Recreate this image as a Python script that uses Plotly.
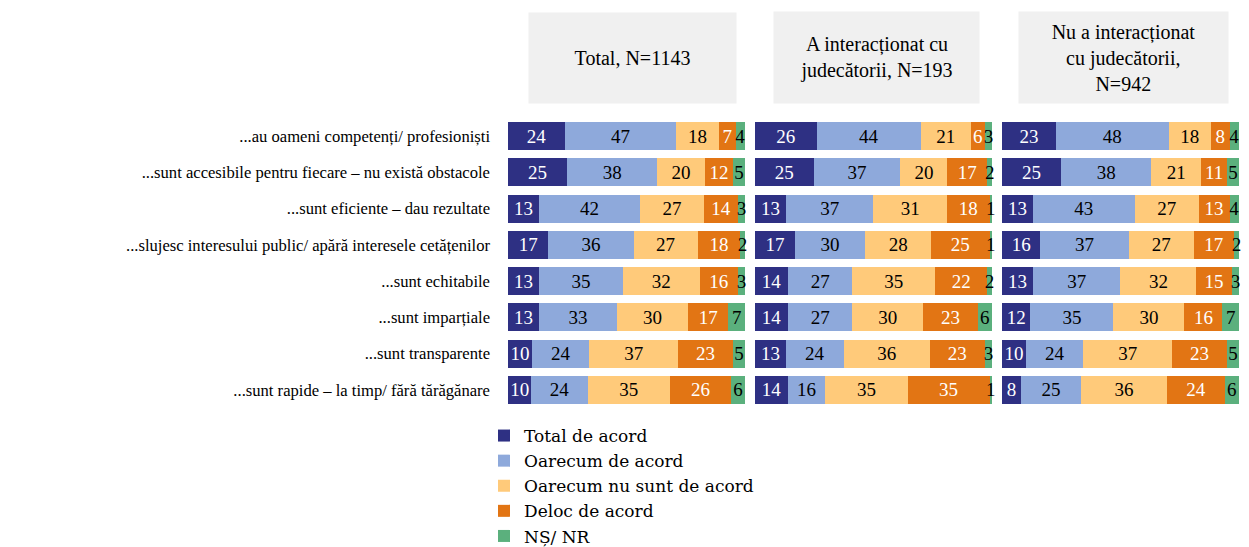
import plotly.graph_objects as go

statements = [
    "...au oameni competenți/ profesioniști",
    "...sunt accesibile pentru fiecare – nu există obstacole",
    "...sunt eficiente – dau rezultate",
    "...slujesc interesului public/ apără interesele cetățenilor",
    "...sunt echitabile",
    "...sunt imparțiale",
    "...sunt transparente",
    "...sunt rapide – la timp/ fără tărăgănare",
]

series_names = ["Total de acord", "Oarecum de acord", "Oarecum nu sunt de acord",
                "Deloc de acord", "NȘ/ NR"]
series_colors = ["#2E3083", "#8EA9DB", "#FFCA7A", "#E27514", "#5BB07D"]
text_colors = ["white", "black", "black", "white", "black"]

panel_titles = ["Total, N=1143", "A interacționat cu<br>judecătorii, N=193",
                "Nu a interacționat<br>cu judecătorii,<br>N=942"]

total_vals = {
    "Total de acord":           [24, 25, 13, 17, 13, 13, 10, 10],
    "Oarecum de acord":         [47, 38, 42, 36, 35, 33, 24, 24],
    "Oarecum nu sunt de acord": [18, 20, 27, 27, 32, 30, 37, 35],
    "Deloc de acord":           [7, 12, 14, 18, 16, 17, 23, 26],
    "NȘ/ NR":                   [4, 5, 3, 2, 3, 7, 5, 6],
}
interact_vals = {
    "Total de acord":           [26, 25, 13, 17, 14, 14, 13, 14],
    "Oarecum de acord":         [44, 37, 37, 30, 27, 27, 24, 16],
    "Oarecum nu sunt de acord": [21, 20, 31, 28, 35, 30, 36, 35],
    "Deloc de acord":           [6, 17, 18, 25, 22, 23, 23, 35],
    "NȘ/ NR":                   [3, 2, 1, 1, 2, 6, 3, 1],
}
no_interact_vals = {
    "Total de acord":           [23, 25, 13, 16, 13, 12, 10, 8],
    "Oarecum de acord":         [48, 38, 43, 37, 37, 35, 24, 25],
    "Oarecum nu sunt de acord": [18, 21, 27, 27, 32, 30, 37, 36],
    "Deloc de acord":           [8, 11, 13, 17, 15, 16, 23, 24],
    "NȘ/ NR":                   [4, 5, 4, 2, 3, 7, 5, 6],
}
panels = [total_vals, interact_vals, no_interact_vals]

FONT = "Liberation Serif"
W, H = 1249, 547
OFF = 8  # page body margin


def fx(px):
    return (px - OFF) / W


def fy(py):
    return 1 - (py - OFF) / H


fig = go.Figure()
for p, vals in enumerate(panels):
    xa = "x" if p == 0 else f"x{p+1}"
    ya = "y" if p == 0 else f"y{p+1}"
    # 100% stacked: share of each answer within its row
    row_sums = [sum(vals[n][r] for n in series_names) for r in range(len(statements))]
    for i, name in enumerate(series_names):
        v = vals[name]
        share = [100.0 * a / s for a, s in zip(v, row_sums)]
        fig.add_trace(go.Bar(
            name=name, y=statements, x=share, orientation="h",
            marker=dict(color=series_colors[i], line=dict(width=0)),
            text=[str(t) for t in v], texttemplate="%{text}",
            hovertemplate="%{y}<br>" + name + ": %{text}<extra></extra>",
            textposition="inside", insidetextanchor="middle", textangle=0,
            textfont=dict(family=FONT, size=19, color=text_colors[i]),
            constraintext="none", cliponaxis=False,
            legendgroup=name, showlegend=(p == 0),
            xaxis=xa, yaxis=ya,
        ))

domains = [(fx(508), fx(745)), (fx(755), fx(992)), (fx(1002), fx(1239))]
ydom = (fy(408), fy(118))

layout = dict(
    width=W, height=H,
    margin=dict(l=0, r=0, t=0, b=0),
    paper_bgcolor="white", plot_bgcolor="white",
    barmode="stack", bargap=0.225,
    uniformtext=dict(minsize=19, mode="show"),
    font=dict(family=FONT, size=18, color="#000000"),
    legend=dict(
        orientation="v", x=fx(484), y=fy(418), xanchor="left", yanchor="top",
        font=dict(family="DejaVu Serif", size=17, color="#000000"),
        traceorder="normal", itemclick=False, bgcolor="rgba(0,0,0,0)",
        tracegroupgap=0,
    ),
)
for p in range(3):
    xk = "xaxis" if p == 0 else f"xaxis{p+1}"
    yk = "yaxis" if p == 0 else f"yaxis{p+1}"
    layout[xk] = dict(domain=domains[p], range=[0, 100.01], visible=False,
                      anchor="y" if p == 0 else f"y{p+1}", fixedrange=True)
    layout[yk] = dict(domain=ydom, anchor="x" if p == 0 else f"x{p+1}",
                      autorange="reversed", type="category",
                      showticklabels=(p == 0), ticks="", showline=False,
                      showgrid=False, zeroline=False, ticklabelstandoff=17,
                      automargin=False,
                      tickfont=dict(family=FONT, size=16.6, color="#000000"))
fig.update_layout(**layout)

boxes = [((529 + 736) / 2, (13 + 103) / 2, 207, 90),
         ((774 + 979) / 2, (12 + 103) / 2, 205, 91),
         ((1019 + 1228) / 2, (12 + 103) / 2, 209, 91)]
for title, (cx, cy, bw, bh) in zip(panel_titles, boxes):
    fig.add_annotation(
        text=title, xref="paper", yref="paper", x=fx(cx), y=fy(cy),
        xanchor="center", yanchor="middle", showarrow=False,
        width=bw, height=bh, bgcolor="#F0F0F0", borderpad=0,
        font=dict(family=FONT, size=20, color="#000000"), align="center",
        valign="middle",
    )

fig.write_html("out.html")
